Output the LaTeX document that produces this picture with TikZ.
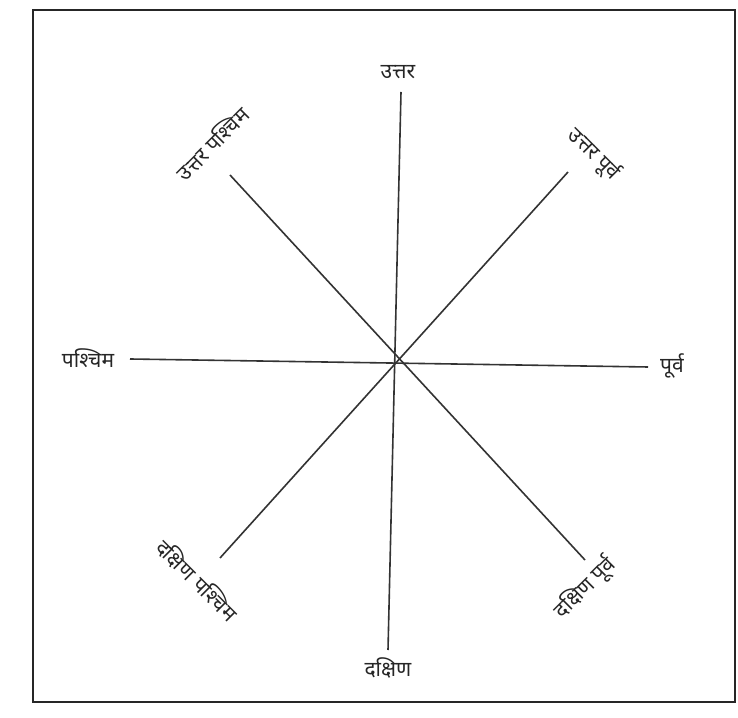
\documentclass[tikz,border=0pt]{standalone}
\usepackage{fontspec}
\newfontfamily\devfont[Script=Devanagari]{Noto Sans}
\begin{document}
\begin{tikzpicture}[x=1pt,y=1pt,
  lbl/.style={font=\devfont\fontsize{21}{24}\selectfont, text=black!85, inner sep=0pt},
  dirline/.style={line width=1.6pt, draw=black!80},
  frameline/.style={line width=2pt, draw=black!85}]
\useasboundingbox (0,0) rectangle (738,717);
\fill[white] (0,0) rectangle (738,717);
\draw[frameline] (33,707) -- (735,707) -- (735,15) -- (33,15) -- cycle;
% line ends
\coordinate (nEnd) at (401,625);
\coordinate (sEnd) at (388,67);
\coordinate (wEnd) at (130,358);
\coordinate (eEnd) at (648,350);
\coordinate (nwEnd) at (230,542);
\coordinate (seEnd) at (585,157);
\coordinate (neEnd) at (568,545);
\coordinate (swEnd) at (220,159);
\draw[dirline] (nEnd) -- (sEnd);
\draw[dirline] (wEnd) -- (eEnd);
\draw[dirline] (nwEnd) -- (seEnd);
\draw[dirline] (neEnd) -- (swEnd);
% labels
\node[lbl] (north) at (398,645) {उत्तर};
\node[lbl] (south) at (388,49) {दक्षिण};
\node[lbl] (west) at (88,359) {पश्चिम};
\node[lbl] (east) at (672,351) {पूर्व};
\node[lbl, rotate=45] (nw) at (212,574) {उत्तर पश्चिम};
\node[lbl, rotate=-45] (ne) at (594,563) {उत्तर पूर्व};
\node[lbl, rotate=-45] (sw) at (197,137) {दक्षिण पश्चिम};
\node[lbl, rotate=45] (se) at (585,129) {दक्षिण पूर्व};
\end{tikzpicture}
\end{document}
